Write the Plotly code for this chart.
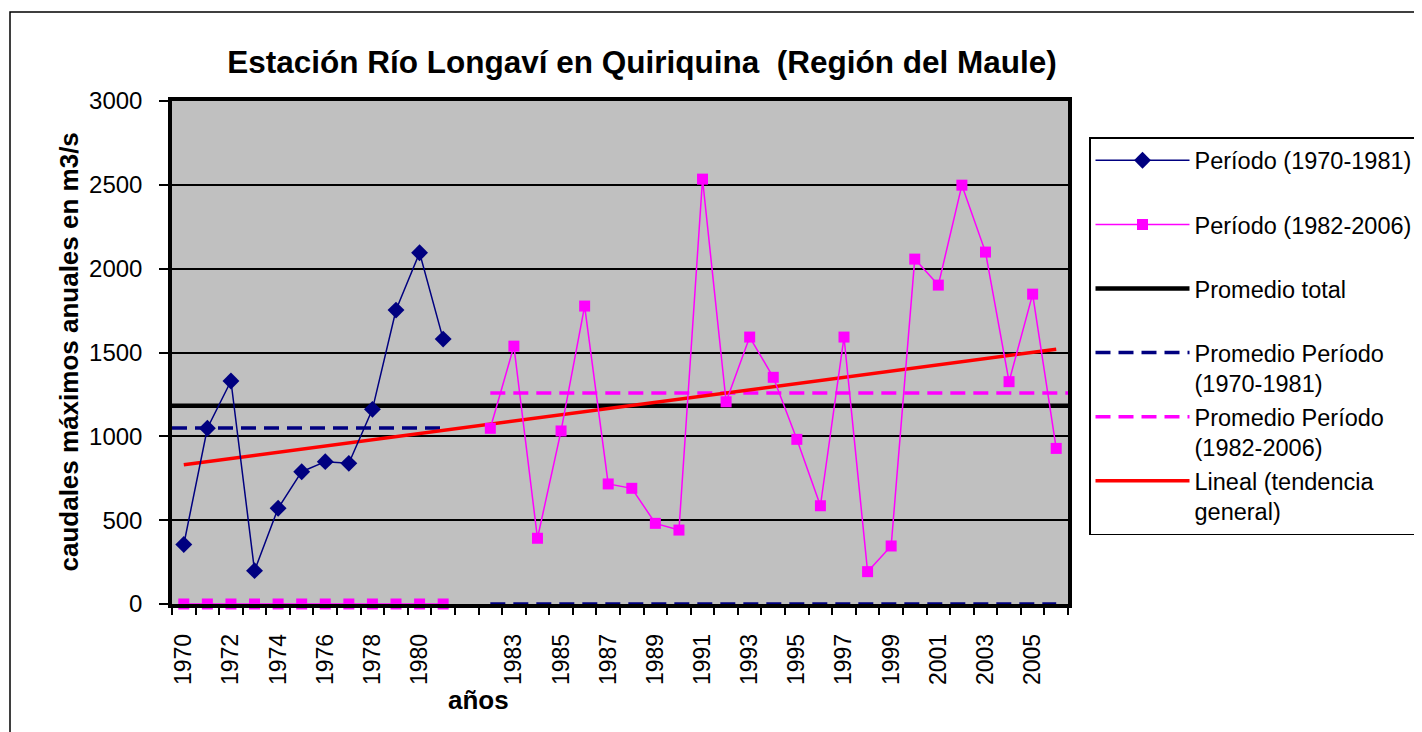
import plotly.graph_objects as go

# ---------------- data ----------------
categories = ["1970", "1971", "1972", "1973", "1974", "1975", "1976", "1977", "1978", "1979",
              "1980", "1981", "",
              "1982", "1983", "1984", "1985", "1986", "1987", "1988", "1989", "1990", "1991",
              "1992", "1993", "1994", "1995", "1996", "1997", "1998", "1999", "2000", "2001",
              "2002", "2003", "2004", "2005", "2006"]

caudal_p1 = [355, 1048, 1330, 199, 571, 789, 849, 839, 1161, 1753, 2095, 1580]
caudal_p2 = [1048, 1538, 392, 1032, 1777, 716, 690, 481, 441, 2534, 1206, 1592, 1352,
             982, 586, 1592, 193, 346, 2057, 1902, 2498, 2099, 1326, 1848, 928]
p2_before = [0, 0, 0, 0, 0, 0, 0, 0, 0, 0, 0, 0]          # serie 1982-2006 shown as 0 in 1970-1981
p1_mean_after = [0] * len(caudal_p2)                         # promedio 1970-1981 shown as 0 afterwards

promedio_total = 1182
promedio_p1 = 1050
promedio_p2 = 1258
tendencia = [830, 1520]   # lineal trend value at first and last year

y_ticks = [0, 500, 1000, 1500, 2000, 2500, 3000]

# ---------------- build ----------------
n = len(categories)
idx = list(range(n))
gap = categories.index("")
x_p1 = idx[:gap]
x_p2 = idx[gap + 1:]
x_range = [-0.5, n - 0.5]

NAVY = "#000080"
MAG = "#FF00FF"
FONT = "Liberation Sans, Arial, sans-serif"

fig = go.Figure()

fig.add_trace(go.Scatter(x=x_range, y=[promedio_total] * 2, mode="lines",
                         line=dict(color="black", width=4.5),
                         name="Promedio total<br> ", legendrank=3))
fig.add_trace(go.Scatter(x=[x_range[0]] + x_p1[1:] + [None] + x_p2,
                         y=[promedio_p1] * len(x_p1) + [None] + p1_mean_after,
                         mode="lines", line=dict(color=NAVY, width=3.5, dash="15px,8px"),
                         name="Promedio Período<br>(1970-1981)", legendrank=4))
fig.add_trace(go.Scatter(x=x_p2[:-1] + [x_range[1]],
                         y=[promedio_p2] * len(x_p2),
                         mode="lines", line=dict(color=MAG, width=3.5, dash="15px,8px"),
                         name="Promedio Período<br>(1982-2006)", legendrank=5))
fig.add_trace(go.Scatter(x=[idx[0], idx[-1]], y=tendencia, mode="lines",
                         line=dict(color="#FF0000", width=3.5),
                         name="Lineal (tendencia<br>general)", legendrank=6))
fig.add_trace(go.Scatter(x=x_p1, y=caudal_p1, mode="lines+markers",
                         line=dict(color=NAVY, width=1.5),
                         marker=dict(symbol="diamond", size=13, color=NAVY),
                         name="Período (1970-1981)<br> ", legendrank=1, cliponaxis=False))
fig.add_trace(go.Scatter(x=x_p1 + [None] + x_p2, y=p2_before + [None] + caudal_p2,
                         mode="lines+markers",
                         line=dict(color=MAG, width=1.5),
                         marker=dict(symbol="square", size=11, color=MAG),
                         name="Período (1982-2006)<br> ", legendrank=2, cliponaxis=False))

# ---------------- layout ----------------
W, H = 1422, 732
OFF = 8   # page offset of the plot div (body margin)
PL, PR, PT, PB = 172, 1068, 101, 604
ML, MT = PL - OFF, PT - OFF
MR, MB = W - (PR - OFF), H - (PB - OFF)
pw, ph = PR - PL, PB - PT

def px_x(p):
    return (p - PL) / pw

def px_y(p):
    return (PB - p) / ph

tickvals = idx[::2]
ticktext = [categories[i] for i in tickvals]

fig.update_layout(
    width=W, height=H,
    margin=dict(l=ML, r=MR, t=MT, b=MB, autoexpand=False),
    paper_bgcolor="white",
    plot_bgcolor="#C0C0C0",
    font=dict(family=FONT, size=23, color="black"),
    title=dict(text="<b>Estación Río Longaví en Quiriquina  (Región del Maule)</b>",
               x=(642 - OFF) / W, xanchor="center", y=1 - (62 - OFF) / H, yanchor="middle",
               font=dict(family=FONT, size=31.5, color="black")),
    showlegend=True,
    legend=dict(x=px_x(1089), y=px_y(137), xanchor="left", yanchor="top",
                bgcolor="white", bordercolor="black", borderwidth=1.5,
                font=dict(family=FONT, size=23.5, color="black"),
                itemwidth=94, valign="top", traceorder="normal"),
    xaxis=dict(range=x_range, tickmode="array", tickvals=tickvals, ticktext=ticktext,
               tickangle=-90, ticks="outside", ticklen=0, tickcolor="rgba(0,0,0,0)",
               ticklabelstandoff=17,
               minor=dict(tickvals=[i - 0.5 for i in idx] + [x_range[1]], ticks="outside",
                          ticklen=7, tickcolor="black", tickwidth=1.5, showgrid=False),
               showgrid=False, zeroline=False,
               showline=True, linecolor="black", linewidth=3.5, mirror=True,
               tickfont=dict(family=FONT, size=23, color="black")),
    yaxis=dict(range=[y_ticks[0], y_ticks[-1]], tickmode="array", tickvals=y_ticks,
               ticks="outside", ticklen=9, tickcolor="black", tickwidth=1.5,
               ticklabelstandoff=12,
               showgrid=True, gridcolor="black", gridwidth=1.5, zeroline=False,
               showline=True, linecolor="black", linewidth=3.5, mirror=True,
               tickfont=dict(family=FONT, size=24, color="black")),
    annotations=[
        dict(text="<b>caudales máximos anuales en m3/s</b>", xref="paper", yref="paper",
             x=px_x(68), y=0.5, xanchor="center", yanchor="middle", textangle=-90,
             showarrow=False, font=dict(family=FONT, size=26, color="black")),
        dict(text="<b>años</b>", xref="paper", yref="paper",
             x=px_x(478), y=px_y(700), xanchor="center", yanchor="middle",
             showarrow=False, font=dict(family=FONT, size=26, color="black")),
    ],
    shapes=[
        dict(type="rect", xref="paper", yref="paper",
             x0=px_x(10), y0=px_y(H + 50), x1=px_x(W + 50), y1=px_y(12),
             line=dict(color="black", width=1.5), fillcolor="rgba(0,0,0,0)", layer="below"),
    ],
)

fig.write_html("out.html")
